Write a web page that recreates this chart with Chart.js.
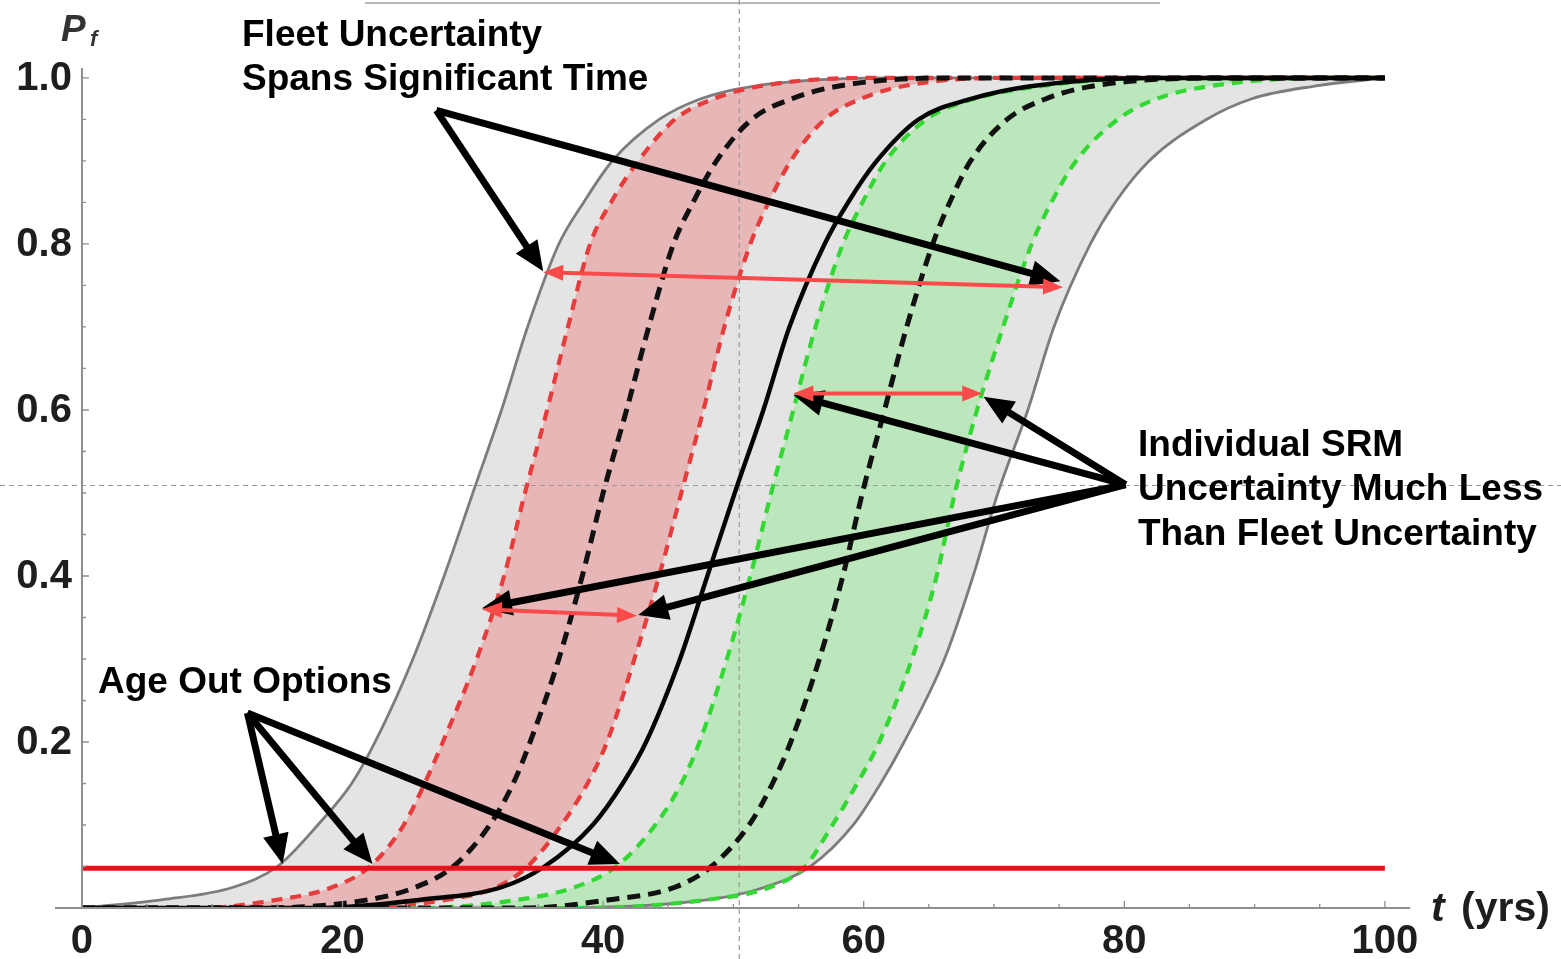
<!DOCTYPE html>
<html>
<head>
<meta charset="utf-8">
<script src="https://cdn.jsdelivr.net/npm/chart.js@4/dist/chart.umd.min.js"></script>
<style>
  html, body { margin: 0; padding: 0; background: #fff; }
  canvas { display: block; }
</style>
</head>
<body>
<canvas id="chartPf" width="1561" height="959"></canvas>
<script>
(function () {
  'use strict';

  // probability levels, and the time (yrs) at which each curve reaches them
  var pLevels     = [0, 0.01, 0.025, 0.05, 0.1, 0.15, 0.2, 0.3, 0.4, 0.5, 0.6, 0.7, 0.8, 0.85, 0.9, 0.95, 0.975, 0.99, 1];
  var tGrayLeft   = [0, 6.2, 11.6, 15.0, 18.1, 20.7, 22.5, 25.4, 27.8, 30.0, 32.2, 34.2, 36.6, 38.5, 40.7, 44.3, 47.5, 51.5, 62];
  var tRedLeft    = [9, 15.0, 19.2, 22.1, 24.7, 26.3, 27.7, 30.3, 32.4, 34.0, 35.7, 37.3, 39.0, 40.6, 42.7, 45.5, 48.5, 52, 60];
  var tBlackLeft  = [14, 22, 25.6, 28.5, 31.3, 33.1, 34.4, 36.6, 38.4, 40.0, 41.8, 43.5, 45.4, 46.9, 48.7, 51.4, 54.5, 58, 66];
  var tRedRight   = [20, 28, 31.8, 34.2, 36.8, 38.8, 40.3, 42.4, 44.3, 46.0, 47.7, 49.3, 51.3, 52.7, 54.4, 57.0, 59.8, 63, 70];
  var tBlackSolid = [18, 26, 32.2, 35.5, 39.2, 41.5, 43.3, 45.9, 48.0, 50.1, 52.3, 54.3, 57.0, 58.8, 61.0, 64.2, 68.3, 72.8, 82];
  var tGreenLeft  = [26, 33.5, 37.8, 41.0, 44.0, 46.0, 47.4, 49.5, 51.3, 52.9, 54.6, 56.3, 58.4, 59.9, 61.7, 64.8, 68.5, 73.5, 82];
  var tBlackRight = [34, 40.5, 45.5, 48.3, 51.2, 53.0, 54.4, 56.6, 58.4, 59.9, 61.6, 63.3, 65.3, 66.6, 68.2, 71.0, 74.0, 77.5, 87];
  var tGreenRight = [38, 48, 52.8, 55.5, 57.6, 59.5, 61.2, 63.7, 65.6, 67.0, 68.7, 70.7, 72.9, 74.4, 76.3, 79.5, 82.5, 86.5, 95];
  var tGrayRight  = [36, 48.1, 52.4, 55.9, 59.2, 61.3, 63.1, 66.2, 68.4, 70.3, 72.6, 74.6, 77.4, 79.3, 81.9, 86.3, 89.8, 94.5, 100];

  var ageOutP = 0.048;
  var crossT = 50.45, crossP = 0.509;

  var xTicks = [0, 20, 40, 60, 80, 100];
  var yTicks = [0.2, 0.4, 0.6, 0.8, 1.0];
  var yTickLabels = ['0.2', '0.4', '0.6', '0.8', '1.0'];

  // annotation arrows [t1, p1, t2, p2], tip at the second point
  var blackArrows = [
    [27.2, 0.961, 35.4, 0.767],
    [27.2, 0.961, 75.1, 0.755],
    [80.1, 0.510, 54.6, 0.618],
    [80.1, 0.510, 69.2, 0.616],
    [80.1, 0.510, 30.7, 0.361],
    [80.1, 0.510, 42.7, 0.353],
    [12.7, 0.235, 15.4, 0.053],
    [12.7, 0.235, 22.3, 0.053],
    [12.7, 0.235, 41.3, 0.053]
  ];
  var redArrows = [
    [35.4, 0.766, 75.3, 0.748],
    [54.6, 0.620, 69.1, 0.620],
    [30.7, 0.360, 42.6, 0.352]
  ];

  var FONT = "'Liberation Sans', Arial, Helvetica, sans-serif";

  function curve(ts) {
    var pts = [];
    if (ts[0] > 0) pts.push({ x: 0, y: 0 });
    ts.forEach(function (t, i) { pts.push({ x: t, y: pLevels[i] }); });
    if (ts[ts.length - 1] < 100) pts.push({ x: 100, y: 1 });
    return pts;
  }

  function line(data, color, width, dash, fill) {
    return {
      data: data,
      borderColor: color,
      borderWidth: width,
      borderDash: dash || [],
      fill: fill || false,
      pointRadius: 0,
      cubicInterpolationMode: 'monotone'
    };
  }

  var pink = '#e7b6b6', green = '#bce6bc', gray = '#e4e4e4';

  var datasets = [
    line([{ x: 0, y: ageOutP }, { x: 100, y: ageOutP }], '#e8111b', 5),
    line(curve(tBlackSolid), '#050505', 4.4),
    line(curve(tBlackLeft), '#111', 5, [13, 8]),
    line(curve(tBlackRight), '#111', 5, [13, 8]),
    line(curve(tRedLeft), '#e63c3c', 4.2, [11, 8], { target: '+1', above: pink, below: pink }),
    line(curve(tRedRight), '#e63c3c', 4.2, [11, 8]),
    line(curve(tGreenLeft), '#33d833', 4.2, [11, 8], { target: '+1', above: green, below: green }),
    line(curve(tGreenRight), '#33d833', 4.2, [11, 8]),
    line(curve(tGrayLeft), '#7c7c7c', 2.8, null, { target: '+1', above: gray, below: gray }),
    line(curve(tGrayRight), '#7c7c7c', 2.8)
  ];

  function arrow(ctx, x1, y1, x2, y2, w, hl, hw, color) {
    var a = Math.atan2(y2 - y1, x2 - x1);
    var bx = x2 - Math.cos(a) * hl * 0.85, by = y2 - Math.sin(a) * hl * 0.85;
    ctx.strokeStyle = color;
    ctx.fillStyle = color;
    ctx.lineWidth = w;
    ctx.lineCap = 'butt';
    ctx.beginPath();
    ctx.moveTo(x1, y1);
    ctx.lineTo(bx, by);
    ctx.stroke();
    var px = -Math.sin(a), py = Math.cos(a);
    var hx = x2 - Math.cos(a) * hl, hy = y2 - Math.sin(a) * hl;
    ctx.beginPath();
    ctx.moveTo(x2, y2);
    ctx.lineTo(hx + px * hw / 2, hy + py * hw / 2);
    ctx.lineTo(hx - px * hw / 2, hy - py * hw / 2);
    ctx.closePath();
    ctx.fill();
  }

  function text(ctx, str, x, y, font, color, align) {
    ctx.font = font;
    ctx.fillStyle = color;
    ctx.textAlign = align || 'left';
    ctx.textBaseline = 'alphabetic';
    ctx.fillText(str, x, y);
  }

  var underlay = {
    id: 'underlay',
    beforeDatasetsDraw: function (chart) {
      var ctx = chart.ctx, xs = chart.scales.x, ys = chart.scales.y;
      ctx.save();
      // faint line at the very top of the figure
      ctx.strokeStyle = '#b8b8b8';
      ctx.lineWidth = 2;
      ctx.beginPath();
      ctx.moveTo(365, 3);
      ctx.lineTo(1160, 3);
      ctx.stroke();
      // crosshair at the median
      var cx = xs.getPixelForValue(crossT), cy = ys.getPixelForValue(crossP);
      ctx.strokeStyle = '#9a9a9a';
      ctx.lineWidth = 1.2;
      ctx.setLineDash([5, 4]);
      ctx.beginPath();
      ctx.moveTo(cx, 0);
      ctx.lineTo(cx, chart.height);
      ctx.moveTo(0, cy);
      ctx.lineTo(chart.width, cy);
      ctx.stroke();
      ctx.restore();
    },
    afterDatasetsDraw: function (chart) {
      var ctx = chart.ctx, xs = chart.scales.x, ys = chart.scales.y;
      var x0 = xs.getPixelForValue(0), y0 = ys.getPixelForValue(0);
      ctx.save();
      ctx.setLineDash([]);
      // axes
      ctx.strokeStyle = '#8f8f8f';
      ctx.lineWidth = 2;
      ctx.beginPath();
      ctx.moveTo(x0, y0);
      ctx.lineTo(x0, chart.chartArea.top);
      ctx.moveTo(chart.chartArea.left, y0);
      ctx.lineTo(chart.chartArea.right, y0);
      ctx.stroke();
      ctx.lineWidth = 1.3;
      ctx.beginPath();
      for (var p = 0.05; p <= 1.001; p += 0.05) {
        var py = ys.getPixelForValue(p);
        var major = Math.abs(p * 5 - Math.round(p * 5)) < 1e-6;
        ctx.moveTo(x0, py);
        ctx.lineTo(x0 + (major ? 7 : 4), py);
      }
      for (var t = 5; t <= 100; t += 5) {
        var px = xs.getPixelForValue(t);
        ctx.moveTo(px, y0);
        ctx.lineTo(px, y0 - (t % 20 === 0 ? 7 : 4));
      }
      ctx.stroke();

      // tick labels
      yTicks.forEach(function (v, i) {
        ctx.font = 'bold 40px ' + FONT;
        ctx.fillStyle = '#1e1e1e';
        ctx.textAlign = 'right';
        ctx.textBaseline = 'middle';
        ctx.fillText(yTickLabels[i], x0 - 10, ys.getPixelForValue(v) + 1);
      });
      xTicks.forEach(function (v) {
        text(ctx, String(v), xs.getPixelForValue(v), 953, 'bold 40px ' + FONT, '#1e1e1e', 'center');
      });

      // axis titles
      text(ctx, 'P', 61, 41, 'italic bold 37px ' + FONT, '#333', 'left');
      text(ctx, 'f', 90, 46, 'italic bold 22px ' + FONT, '#333', 'left');
      text(ctx, 't', 1431, 921, 'italic bold 41px ' + FONT, '#1e1e1e', 'left');
      text(ctx, '(yrs)', 1461, 921, 'bold 41px ' + FONT, '#1e1e1e', 'left');

      // arrows
      blackArrows.forEach(function (a) {
        arrow(ctx, xs.getPixelForValue(a[0]), ys.getPixelForValue(a[1]),
          xs.getPixelForValue(a[2]), ys.getPixelForValue(a[3]), 7, 30, 26, '#000');
      });
      redArrows.forEach(function (a) {
        var ax = xs.getPixelForValue(a[0]), ay = ys.getPixelForValue(a[1]);
        var bx = xs.getPixelForValue(a[2]), by = ys.getPixelForValue(a[3]);
        var mx = (ax + bx) / 2, my = (ay + by) / 2;
        arrow(ctx, mx, my, ax, ay, 4, 20, 16, '#fb4a4a');
        arrow(ctx, mx, my, bx, by, 4, 20, 16, '#fb4a4a');
      });

      // annotation text
      var f = 'bold 37px ' + FONT;
      text(ctx, 'Fleet Uncertainty', 242, 46, f, '#000');
      text(ctx, 'Spans Significant Time', 242, 90, f, '#000');
      text(ctx, 'Individual SRM', 1138, 456, f, '#000');
      text(ctx, 'Uncertainty Much Less', 1138, 500, f, '#000');
      text(ctx, 'Than Fleet Uncertainty', 1138, 545, f, '#000');
      text(ctx, 'Age Out Options', 98, 693, f, '#000');
      ctx.restore();
    }
  };

  function init() {
    var el = document.getElementById('chartPf');
    if (!el || !window.Chart) return;
    new Chart(el, {
      type: 'line',
      data: { datasets: datasets },
      options: {
        responsive: false,
        animation: false,
        events: [],
        layout: { padding: { left: 55, right: 151, top: 68, bottom: 51 } },
        scales: {
          x: { type: 'linear', min: -2.07, max: 101.93, display: false },
          y: { type: 'linear', min: 0, max: 1.012, display: false }
        },
        plugins: {
          legend: { display: false },
          tooltip: { enabled: false },
          filler: { drawTime: 'beforeDatasetsDraw', propagate: false }
        }
      },
      plugins: [underlay]
    });
  }

  if (document.readyState === 'loading') {
    document.addEventListener('DOMContentLoaded', init);
  } else {
    init();
  }
})();
</script>
</body>
</html>
